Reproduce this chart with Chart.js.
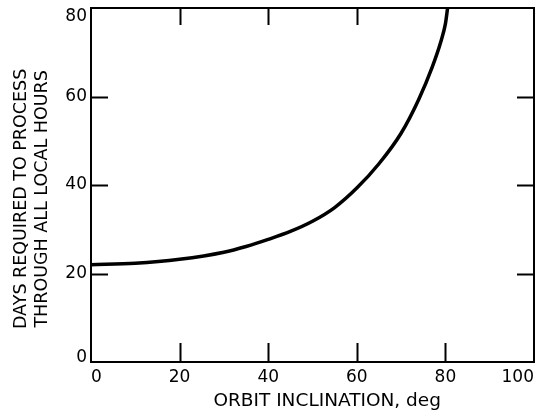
<!DOCTYPE html>
<html>
<head>
<meta charset="utf-8">
<script src="https://cdn.jsdelivr.net/npm/chart.js@4.4.1/dist/chart.umd.min.js"></script>
<style>
  html, body { margin: 0; padding: 0; background: #ffffff; }
  #wrap { width: 545px; height: 414px; position: relative; }
</style>
</head>
<body>
<div id="wrap"><canvas id="c" width="545" height="414"></canvas></div>
<script>
// ---- data ----
const inclination = [0, 10, 20, 30, 35, 40, 45, 50, 55, 60, 65, 70, 74, 77, 79, 80, 80.5];
const daysRequired = [22, 22.3, 23.2, 24.8, 26.1, 27.7, 29.5, 31.8, 34.9, 39.3, 44.8, 51.7, 59.4, 66.6, 72.5, 76.4, 80];
const xTickValues = [0, 20, 40, 60, 80, 100];
const yTickValues = [0, 20, 40, 60, 80];
const xInnerTicks = [20, 40, 60, 80];
const yInnerTicks = [20, 40, 60];
const topInnerTicks = [20, 40, 60];
const xTitle = '     ORBIT INCLINATION, deg';
const yTitle = ['DAYS REQUIRED TO PROCESS     ', 'THROUGH ALL LOCAL HOURS     '];

const points = inclination.map((x, i) => ({ x: x, y: daysRequired[i] }));

const frameAndTicks = {
  id: 'frameAndTicks',
  afterDatasetsDraw(chart) {
    const { ctx, chartArea: a, scales } = chart;
    const xs = scales.x, ys = scales.y;
    const L = 17;
    ctx.save();
    ctx.strokeStyle = '#000';
    ctx.lineWidth = 2;
    ctx.strokeRect(a.left, a.top, a.right - a.left, a.bottom - a.top);
    ctx.beginPath();
    xInnerTicks.forEach(v => {
      const px = Math.round(xs.getPixelForValue(v)) + 0.5;
      ctx.moveTo(px, a.bottom); ctx.lineTo(px, a.bottom - L - 2);
    });
    topInnerTicks.forEach(v => {
      const px = Math.round(xs.getPixelForValue(v)) + 0.5;
      ctx.moveTo(px, a.top); ctx.lineTo(px, a.top + L);
    });
    yInnerTicks.forEach(v => {
      const py = Math.round(ys.getPixelForValue(v)) + 0.5;
      ctx.moveTo(a.left, py); ctx.lineTo(a.left + L, py);
      ctx.moveTo(a.right, py); ctx.lineTo(a.right - L, py);
    });
    ctx.stroke();
    ctx.restore();
  }
};

new Chart(document.getElementById('c'), {
  type: 'line',
  data: {
    datasets: [{
      data: points,
      borderColor: '#000',
      borderWidth: 3.5,
      pointRadius: 0,
      fill: false,
      cubicInterpolationMode: 'monotone',
      clip: false
    }]
  },
  options: {
    responsive: false,
    animation: false,
    devicePixelRatio: 1,
    layout: { padding: { top: 8, right: 11, left: 0, bottom: 0 } },
    plugins: { legend: { display: false }, tooltip: { enabled: false } },
    scales: {
      x: {
        type: 'linear',
        min: 0, max: 100,
        afterBuildTicks(s) { s.ticks = xTickValues.map(v => ({ value: v })); },
        afterFit(s) { s.height = 52; s.paddingLeft = 0; s.paddingRight = 0; },
        grid: { display: false, drawTicks: false },
        border: { display: false },
        ticks: { color: '#000', font: { family: 'DejaVu Sans', size: 17 }, padding: 5, maxRotation: 0, align: 'inner' },
        title: {
          display: true, text: xTitle, color: '#000',
          font: { family: 'DejaVu Sans', size: 18.5 }, padding: { top: 0, bottom: 2 }
        }
      },
      y: {
        type: 'linear',
        min: 0, max: 80,
        afterBuildTicks(s) { s.ticks = yTickValues.map(v => ({ value: v })); },
        afterFit(s) { s.width = 91; s.paddingTop = 0; s.paddingBottom = 0; },
        grid: { display: false, drawTicks: false },
        border: { display: false },
        ticks: {
          color: '#000', font: { family: 'DejaVu Sans', size: 17, lineHeight: 0.5 }, padding: 4,
          callback(v, i, arr) {
            const s = String(v);
            if (i === arr.length - 1) return ['', '', s];
            if (i === 0) return [s, ''];
            return s;
          }
        },
        title: {
          display: true, text: yTitle, color: '#000',
          font: { family: 'DejaVu Sans', size: 17.5, lineHeight: 1.2 }, padding: { top: 11, bottom: 0 }
        }
      }
    }
  },
  plugins: [frameAndTicks]
});
</script>
</body>
</html>
